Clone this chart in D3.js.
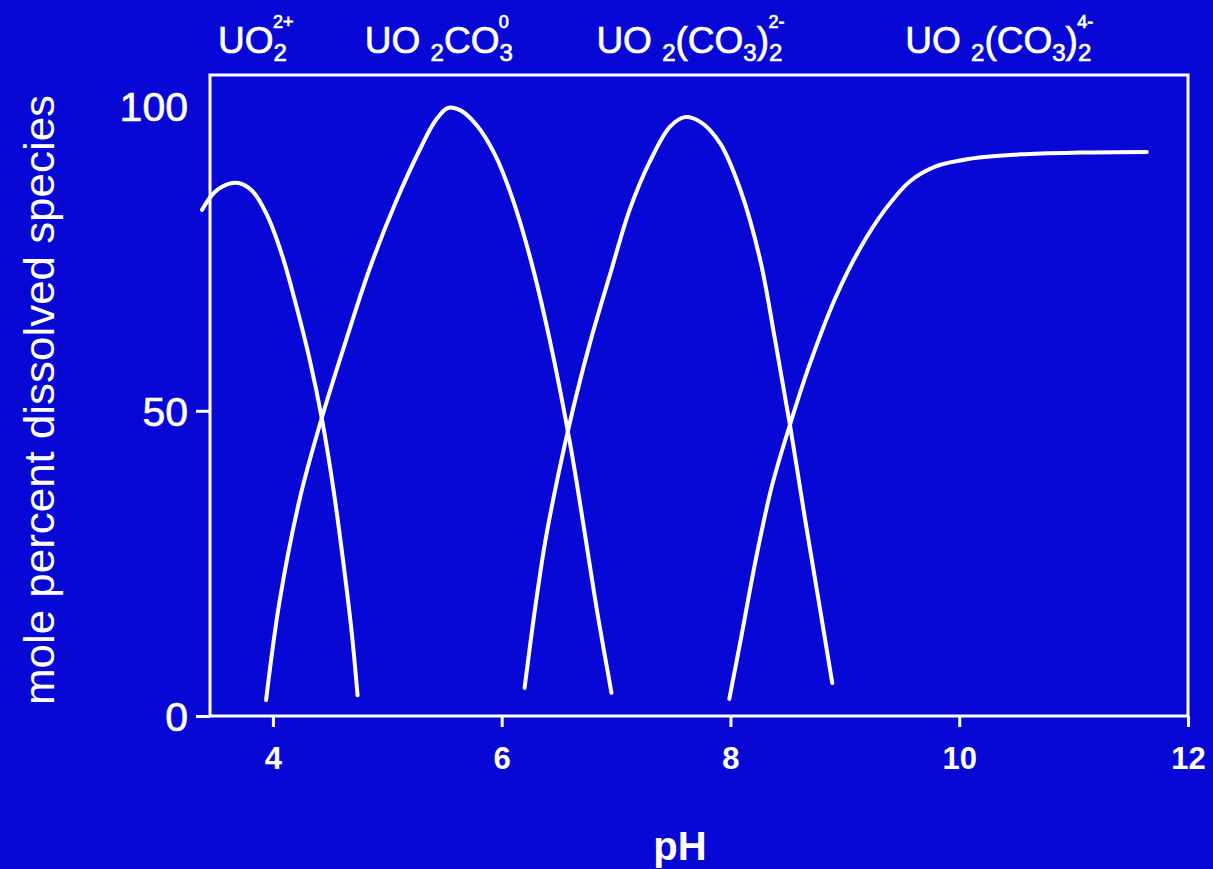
<!DOCTYPE html>
<html>
<head>
<meta charset="utf-8">
<script src="https://cdn.jsdelivr.net/npm/d3@7"></script>
<style>
  html, body { margin: 0; padding: 0; background: #0707d6; }
  svg { display: block; }
  text { font-family: "Liberation Sans", Arial, Helvetica, sans-serif; fill: #ffffff; }
</style>
</head>
<body>
<svg id="chart" width="1213" height="869"></svg>
<script>
// Uranyl carbonate speciation versus pH (mole percent of dissolved uranium)
const xTicks = [4, 6, 8, 10, 12];
const yTicks = [0, 50, 100];

// [pH, mole percent]
const uo2 = [[3.38,82.9],[3.49,85.8],[3.62,87.2],[3.70,87.3],[3.82,86.0],[3.95,82.0],[4.08,75.5],[4.20,67.5],[4.32,58.5],[4.43,48.5],[4.53,37.0],[4.62,24.5],[4.69,13.5],[4.74,3.4]];
const uo2co3 = [[3.94,2.6],[4.06,19.0],[4.24,36.0],[4.43,49.0],[4.63,61.0],[4.85,73.5],[5.07,84.0],[5.29,93.0],[5.42,97.5],[5.53,99.6],[5.64,99.2],[5.78,96.8],[5.94,92.0],[6.09,85.0],[6.25,75.0],[6.42,61.6],[6.60,44.4],[6.73,29.5],[6.84,16.5],[6.96,3.8]];
const uo2co3_2 = [[6.20,4.6],[6.28,16.0],[6.38,28.5],[6.50,40.0],[6.62,50.0],[6.77,61.0],[6.95,72.5],[7.12,83.0],[7.30,91.0],[7.47,96.5],[7.60,98.1],[7.73,97.4],[7.91,93.8],[8.09,86.0],[8.26,74.7],[8.39,61.6],[8.52,47.7],[8.65,32.5],[8.77,19.0],[8.89,5.4]];
const uo2co3_3 = [[7.99,2.8],[8.10,13.5],[8.22,25.5],[8.36,37.5],[8.52,47.7],[8.70,58.0],[8.92,68.6],[9.13,76.5],[9.35,82.9],[9.57,87.6],[9.79,90.0],[10.10,91.3],[10.53,92.0],[11.06,92.3],[11.64,92.4]];

const seriesList = [uo2, uo2co3, uo2co3_2, uo2co3_3];

// species labels: pieces of text with their role (normal, subscript, superscript)
const speciesLabels = [
  { pH: 3.85, parts: [["UO", "n"], ["2", "sub"], ["2+", "sup"]] },
  { pH: 5.45, parts: [["UO ", "n"], ["2", "sub"], ["CO", "n"], ["3", "sub"], ["0", "sup"]] },
  { pH: 7.65, parts: [["UO ", "n"], ["2", "sub"], ["(CO", "n"], ["3", "sub"], [")", "n"], ["2", "sub"], ["2-", "sup"]] },
  { pH: 10.35, parts: [["UO ", "n"], ["2", "sub"], ["(CO", "n"], ["3", "sub"], [")", "n"], ["2", "sub"], ["4-", "sup"]] }
];

const svg = d3.select("#chart");
const frame = { left: 210, right: 1188, top: 75, bottom: 716 };

const x = d3.scaleLinear().domain([3.45, 12]).range([frame.left, frame.right]);
const y = d3.scaleLinear().domain([0, 105]).range([frame.bottom, frame.top]);

const white = "#ffffff";

// soft edge on the white strokes
const defs = svg.append("defs");
const glow = defs.append("filter").attr("id", "glow")
  .attr("x", "-5%").attr("y", "-5%").attr("width", "110%").attr("height", "110%");
glow.append("feGaussianBlur").attr("stdDeviation", 0.6);

// plot frame
svg.append("rect")
  .attr("x", frame.left).attr("y", frame.top)
  .attr("width", frame.right - frame.left).attr("height", frame.bottom - frame.top)
  .attr("fill", "none").attr("stroke", white).attr("stroke-width", 3);

// x axis
const xAxis = svg.append("g")
  .attr("transform", `translate(0,${frame.bottom})`)
  .call(d3.axisBottom(x).tickValues(xTicks).tickSize(11).tickPadding(20).tickFormat(d3.format("d")));
xAxis.select(".domain").remove();
xAxis.selectAll("line").attr("stroke", white).attr("stroke-width", 3);
xAxis.selectAll("text").attr("fill", white).style("font-size", "31px").attr("font-weight", "bold");

// y axis
const yAxis = svg.append("g")
  .attr("transform", `translate(${frame.left},0)`)
  .call(d3.axisLeft(y).tickValues(yTicks).tickSize(14).tickPadding(8).tickFormat(d3.format("d")));
yAxis.select(".domain").remove();
yAxis.selectAll("line").attr("stroke", white).attr("stroke-width", 3)
  .filter(d => d === 100).remove();
yAxis.selectAll("text").attr("fill", white).style("font-size", "41px")
  .attr("stroke", white).attr("stroke-width", 0.6)
  .attr("dy", "0.36em");

// axis titles
svg.append("text")
  .attr("transform", `translate(54,${400}) rotate(-90)`)
  .attr("text-anchor", "middle")
  .style("font-size", "42px")
  .attr("textLength", 610)
  .attr("lengthAdjust", "spacingAndGlyphs")
  .text("mole percent dissolved species");

svg.append("text")
  .attr("x", 680).attr("y", 860)
  .attr("text-anchor", "middle")
  .style("font-size", "40px")
  .attr("font-weight", "bold")
  .text("pH");

// species curves
const line = d3.line()
  .x(d => x(d[0]))
  .y(d => y(d[1]))
  .curve(d3.curveCatmullRom.alpha(0.5));

svg.append("g")
  .attr("filter", "url(#glow)")
  .selectAll("path")
  .data(seriesList)
  .join("path")
  .attr("d", line)
  .attr("fill", "none")
  .attr("stroke", white)
  .attr("stroke-width", 4)
  .attr("stroke-linecap", "round")
  .attr("stroke-linejoin", "round");

// species labels above the frame
const labelG = svg.append("g");
speciesLabels.forEach(lab => {
  const t = labelG.append("text")
    .attr("x", x(lab.pH)).attr("y", 53)
    .attr("text-anchor", "middle")
    .attr("stroke", white).attr("stroke-width", 0.7)
    .style("font-size", "37px");
  lab.parts.forEach(([str, kind], i) => {
    const prevKind = i > 0 ? lab.parts[i - 1][1] : null;
    const ts = t.append("tspan").text(str);
    if (kind === "n") {
      if (prevKind === "sub") ts.attr("dy", -8);
    } else if (kind === "sub") {
      ts.style("font-size", "24px").attr("dy", 8);
    } else if (kind === "sup") {
      ts.style("font-size", "18px").attr("dy", -33).attr("dx", -14);
    }
  });
});
</script>
</body>
</html>
